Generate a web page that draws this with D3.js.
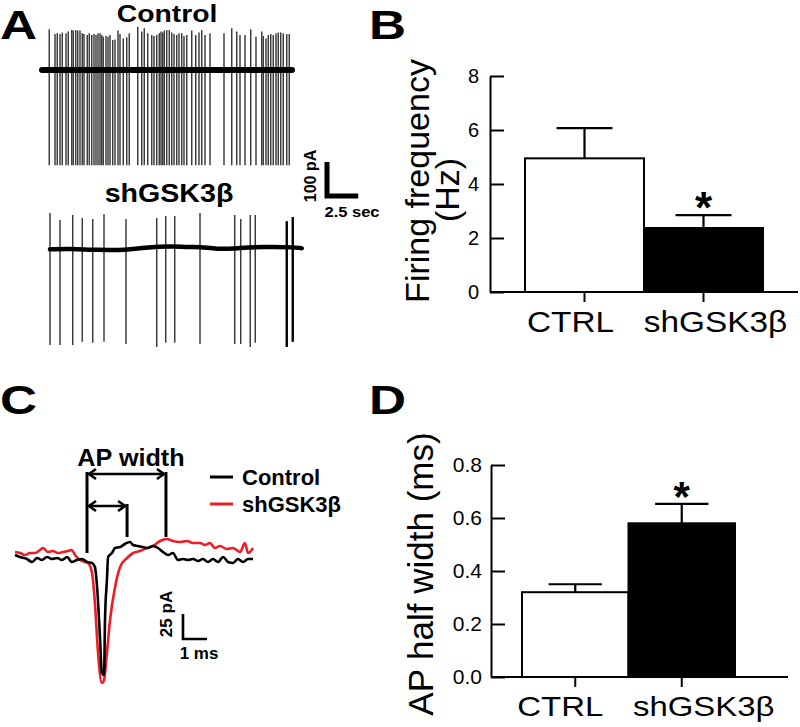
<!DOCTYPE html>
<html><head><meta charset="utf-8">
<script src="https://cdn.jsdelivr.net/npm/d3@7"></script>
<style>
html,body{margin:0;padding:0;background:#fff;}
svg{display:block;font-family:"Liberation Sans",Arial,sans-serif;}
</style></head>
<body>
<svg id="fig" width="800" height="727"></svg>
<script>
// ---------------- DATA ----------------
// Panel A: spike times (s) and peak amplitudes (pA)
const controlSpikeTimes = [0.58,1.04,1.22,1.44,1.62,1.92,2.10,2.38,2.50,2.70,2.86,3.04,3.22,3.36,3.62,3.78,3.98,4.16,4.32,4.48,4.64,4.78,4.90,5.12,5.28,5.44,5.66,5.84,6.08,6.24,6.50,6.78,6.98,7.66,7.98,8.18,8.46,8.78,8.96,9.18,9.38,9.52,9.66,9.78,9.98,10.18,10.38,10.56,10.78,10.96,11.18,11.36,11.58,11.98,12.30,12.56,12.78,13.04,13.44,14.56,15.18,15.58,15.84,16.24,16.70,17.12,17.58,17.70,17.92,18.10,18.30,18.50,18.72,18.90,19.10,19.30,19.58,19.78];
const controlSpikePeaks = [120,106,108,106,110,108,113,118,116,118,116,116,108,106,103,108,103,106,103,108,108,103,98,100,98,103,88,90,116,106,93,96,108,127,113,123,108,103,100,103,108,113,110,116,118,118,110,106,103,108,108,100,103,116,103,110,118,103,108,108,123,113,103,103,120,98,113,100,93,103,106,103,108,110,110,108,106,106];
const controlTrough = -280;
const shSpikeTimes = [0.08,0.88,1.90,2.66,3.50,4.40,6.16,8.62,9.34,10.06,12.08,14.86,15.34,16.10,16.50,19.02,19.50];
const shSpikePeaks = [103,82,97,88,85,100,85,88,94,94,103,97,85,97,97,79,91];
const shSpikeTroughs = [-285,-285,-285,-276,-279,-276,-282,-291,-279,-279,-282,-282,-282,-291,-279,-291,-276];
const shBaseline = [[0.08,-4],[1.68,-2],[3.82,-6],[6.22,-6],[7.52,1],[9.92,6],[11.02,2],[12.08,4],[13.42,-4],[15.02,-1],[17.14,4],[19.82,2],[20.22,-1]];

// Panel B
const categories = ["CTRL","shGSK3β"];
const freqMean = [4.95, 2.37];
const freqSem = [1.12, 0.48];
const freqTicks = [0,2,4,6,8];

// Panel C: averaged action currents (ms, pA)
const apControl = [[0,3],[0.21,1],[0.5,-1],[0.71,-4],[0.92,0],[1.12,-2],[1.33,1],[1.54,-1],[1.75,0],[1.96,-2],[2.17,1],[2.37,-4],[2.58,-2],[2.79,-1],[3.0,-4],[3.21,-5],[3.33,-9],[3.42,-29],[3.54,-79],[3.62,-115],[3.71,-117],[3.75,-62],[3.83,-22],[3.88,1],[4.04,5],[4.17,10],[4.38,11],[4.58,14],[4.79,16],[4.92,13],[5.12,12],[5.33,11],[5.54,10],[5.75,12],[5.96,10],[6.17,6],[6.38,3],[6.58,5],[6.79,-2],[7.0,-1],[7.21,-2],[7.42,-1],[7.63,-3],[7.83,-1],[8.04,-4],[8.25,-1],[8.46,-4],[8.67,1],[8.88,-4],[9.08,-5],[9.29,-1],[9.5,-4],[9.71,-1],[9.92,-1]];
const apSh = [[0,6],[0.21,5],[0.42,3],[0.62,5],[0.83,5],[1.04,8],[1.17,10],[1.37,6],[1.58,7],[1.79,5],[2.0,6],[2.21,7],[2.37,8],[2.5,3],[2.71,-2],[2.92,-4],[3.04,-5],[3.21,-15],[3.33,-45],[3.46,-95],[3.62,-125],[3.71,-122],[3.83,-95],[3.96,-62],[4.17,-29],[4.38,-9],[4.67,0],[4.92,5],[5.21,7],[5.5,10],[5.75,12],[6.04,17],[6.33,19],[6.58,17],[6.88,16],[7.17,17],[7.42,15],[7.71,15],[7.92,13],[8.12,15],[8.33,10],[8.54,12],[8.83,9],[9.08,10],[9.38,6],[9.58,15],[9.71,5],[9.92,10]];
const widthMarks = [3.0, 4.67, 6.29]; // ms: onset, control end, shGSK3β end

// Panel D
const hwMean = [0.32, 0.58];
const hwSem = [0.03, 0.073];
const hwTicks = [0,0.2,0.4,0.6,0.8];

// ---------------- DRAW ----------------
const svg = d3.select("#fig");
const RED = "#ee1c24";
const FONT = "Liberation Sans, Arial, sans-serif";

function txt(g, s, x, y, o = {}) {
  return g.append("text").text(s)
    .attr("transform", `translate(${x},${y}) rotate(${o.rot || 0}) scale(${o.sx || 1},${o.sy || 1})`)
    .attr("font-size", o.size || 16)
    .attr("font-weight", o.weight || "normal")
    .attr("text-anchor", o.anchor || "start")
    .attr("fill", o.fill || "#000");
}

// Panel letters
txt(svg, "A", 0, 39, {size: 41, weight: "bold", sx: 1.25});
txt(svg, "B", 369, 39, {size: 41, weight: "bold", sx: 1.25});
txt(svg, "C", 0, 414, {size: 41, weight: "bold", sx: 1.25});
txt(svg, "D", 369, 414, {size: 41, weight: "bold", sx: 1.25});

// ---- Panel A ----
const gA = svg.append("g");
const pxPerPa = 34 / 100;
const xCtl = d3.scaleLinear().domain([0, 20]).range([42, 292]);
const yCtl = d3.scaleLinear().domain([0, 100]).range([70, 70 - 100 * pxPerPa]);
const xSh = d3.scaleLinear().domain([0, 20]).range([49, 299]);
const ySh = d3.scaleLinear().domain([0, 100]).range([248, 248 - 100 * pxPerPa]);

txt(gA, "Control", 167, 22, {size: 24, weight: "bold", anchor: "middle", sx: 1.18});
txt(gA, "shGSK3β", 169, 202, {size: 26, weight: "bold", anchor: "middle", sx: 1.1});

gA.selectAll("line.cs").data(controlSpikeTimes).join("line")
  .attr("x1", d => xCtl(d)).attr("x2", d => xCtl(d))
  .attr("y1", (d, i) => yCtl(controlSpikePeaks[i])).attr("y2", yCtl(controlTrough))
  .attr("stroke", "#333").attr("stroke-width", 1.4);
gA.append("line").attr("x1", xCtl(0)).attr("x2", xCtl(20)).attr("y1", yCtl(0)).attr("y2", yCtl(0))
  .attr("stroke", "#000").attr("stroke-width", 6).attr("stroke-linecap", "round");

gA.selectAll("line.ss").data(shSpikeTimes).join("line")
  .attr("x1", d => xSh(d)).attr("x2", d => xSh(d))
  .attr("y1", (d, i) => ySh(shSpikePeaks[i])).attr("y2", (d, i) => ySh(shSpikeTroughs[i]))
  .attr("stroke", (d, i) => i >= shSpikeTimes.length - 2 ? "#000" : "#333")
  .attr("stroke-width", (d, i) => i >= shSpikeTimes.length - 2 ? 2.4 : 1.4);
gA.append("path").datum(shBaseline)
  .attr("d", d3.line().x(d => xSh(d[0])).y(d => ySh(d[1])).curve(d3.curveBasis))
  .attr("fill", "none").attr("stroke", "#000").attr("stroke-width", 4.5).attr("stroke-linecap", "round");

// scale bar A
const sbX = 327;
gA.append("path").attr("d", `M${sbX},${yCtl(0) + 92} V${yCtl(0) + 92 + 100 * pxPerPa} H${sbX + xCtl(2.5) - xCtl(0)}`)
  .attr("fill", "none").attr("stroke", "#000").attr("stroke-width", 5);
txt(gA, "100 pA", 316, 176, {size: 16, weight: "bold", anchor: "middle", rot: -90});
txt(gA, "2.5 sec", 352, 217, {size: 15, weight: "bold", anchor: "middle", sx: 1.1});

// ---- Panel B ----
const gB = svg.append("g");
const xB = d3.scaleBand().domain(categories).range([525, 763]).padding(0);
const yB = d3.scaleLinear().domain([0, 8]).range([292, 76]);
gB.append("g").attr("transform", "translate(490,0)")
  .call(d3.axisLeft(yB).tickValues(freqTicks).tickSizeInner(-14).tickSizeOuter(0).tickPadding(11))
  .call(g => { g.select(".domain").attr("stroke-width", 2); g.selectAll(".tick line").attr("stroke-width", 2);
    g.selectAll(".tick text").attr("font-size", 20).attr("font-family", FONT); });
gB.selectAll("rect").data(categories).join("rect")
  .attr("x", d => xB(d)).attr("width", xB.bandwidth())
  .attr("y", (d, i) => yB(freqMean[i])).attr("height", (d, i) => yB(0) - yB(freqMean[i]))
  .attr("fill", (d, i) => i === 0 ? "#fff" : "#000").attr("stroke", "#000").attr("stroke-width", 2);
categories.forEach((c, i) => {
  const cx = xB(c) + xB.bandwidth() / 2, hw = xB.bandwidth() * 0.235;
  gB.append("path").attr("d", `M${cx},${yB(freqMean[i])} V${yB(freqMean[i] + freqSem[i])} M${cx - hw},${yB(freqMean[i] + freqSem[i])} H${cx + hw}`)
    .attr("stroke", "#000").attr("stroke-width", 2.2).attr("fill", "none");
});
const sB = 1.15;
gB.append("g").attr("transform", "translate(0,292)")
  .call(d3.axisBottom(xB).tickSizeInner(10).tickSizeOuter(0).tickPadding(14))
  .call(g => { g.select(".domain").remove(); g.selectAll(".tick line").attr("stroke-width", 2);
    g.selectAll(".tick text").attr("font-size", 29).attr("font-family", FONT)
      .attr("transform", `scale(${sB},1)`)
      .attr("dx", (d, i) => (i === 0 ? -14 : 12) / sB).attr("dy", "0.55em"); });
gB.append("line").attr("x1", 490).attr("x2", 798).attr("y1", 292).attr("y2", 292).attr("stroke", "#000").attr("stroke-width", 2);
txt(gB, "*", xB("shGSK3β") + xB.bandwidth() / 2, yB(freqMean[1] + freqSem[1]) + 8, {size: 44, weight: "bold", anchor: "middle"});
txt(gB, "Firing frequency", 429, 181, {size: 34, anchor: "middle", rot: -90});
txt(gB, "(Hz)", 459, 190, {size: 34, anchor: "middle", rot: -90});

// ---- Panel C ----
const gC = svg.append("g");
const xC = d3.scaleLinear().domain([0, 10]).range([15, 255]);
const yC = d3.scaleLinear().domain([0, -125]).range([558, 683]);
const lineC = d3.line().x(d => xC(d[0])).y(d => yC(d[1])).curve(d3.curveMonotoneX);
gC.append("path").datum(apSh).attr("d", lineC).attr("fill", "none").attr("stroke", RED).attr("stroke-width", 2.6).attr("stroke-linejoin", "round");
gC.append("path").datum(apControl).attr("d", lineC).attr("fill", "none").attr("stroke", "#000").attr("stroke-width", 2.6).attr("stroke-linejoin", "round");

const xa = xC(widthMarks[0]), xb = xC(widthMarks[1]), xc = xC(widthMarks[2]);
const ann = gC.append("g").attr("stroke", "#000").attr("stroke-width", 3).attr("fill", "none");
ann.append("line").attr("x1", xa).attr("x2", xa).attr("y1", 472).attr("y2", 553);
ann.append("line").attr("x1", xc).attr("x2", xc).attr("y1", 472).attr("y2", 537);
ann.append("line").attr("x1", xb).attr("x2", xb).attr("y1", 504).attr("y2", 537);
function dblArrow(x1, x2, y) {
  ann.append("line").attr("x1", x1 + 2).attr("x2", x2 - 2).attr("y1", y).attr("y2", y).attr("stroke-width", 2.6);
  ann.append("path").attr("d", `M${x1 + 9},${y - 5} L${x1 + 2},${y} L${x1 + 9},${y + 5}`).attr("stroke-width", 2.6);
  ann.append("path").attr("d", `M${x2 - 9},${y - 5} L${x2 - 2},${y} L${x2 - 9},${y + 5}`).attr("stroke-width", 2.6);
}
dblArrow(xa, xc, 474);
dblArrow(xa, xb, 506);
txt(gC, "AP width", 131, 466, {size: 24, weight: "bold", anchor: "middle", sx: 1.05});

// legend
gC.append("line").attr("x1", 210).attr("x2", 233).attr("y1", 477).attr("y2", 477).attr("stroke", "#000").attr("stroke-width", 3);
gC.append("line").attr("x1", 210).attr("x2", 233).attr("y1", 504).attr("y2", 504).attr("stroke", RED).attr("stroke-width", 3);
txt(gC, "Control", 242, 485, {size: 22, weight: "bold"});
txt(gC, "shGSK3β", 242, 512, {size: 22, weight: "bold"});

// scale bar C
const sbCx = 183, sbCy = 639;
gC.append("path").attr("d", `M${sbCx},${sbCy - (yC(-25) - yC(0))} V${sbCy} H${sbCx + xC(1) - xC(0)}`)
  .attr("fill", "none").attr("stroke", "#000").attr("stroke-width", 2.6);
txt(gC, "25 pA", 172, 614, {size: 17, weight: "bold", anchor: "middle", rot: -90});
txt(gC, "1 ms", 199, 659, {size: 17, weight: "bold", anchor: "middle"});

// ---- Panel D ----
const gD = svg.append("g");
const xD = d3.scaleBand().domain(categories).range([522, 735]).padding(0);
const yD = d3.scaleLinear().domain([0, 0.8]).range([677, 465]);
gD.append("g").attr("transform", "translate(491,0)")
  .call(d3.axisLeft(yD).tickValues(hwTicks).tickFormat(d3.format(".1f")).tickSizeInner(-14).tickSizeOuter(0).tickPadding(9))
  .call(g => { g.select(".domain").attr("stroke-width", 2); g.selectAll(".tick line").attr("stroke-width", 2);
    g.selectAll(".tick text").attr("font-size", 21).attr("font-family", FONT); });
gD.selectAll("rect").data(categories).join("rect")
  .attr("x", d => xD(d)).attr("width", xD.bandwidth())
  .attr("y", (d, i) => yD(hwMean[i])).attr("height", (d, i) => yD(0) - yD(hwMean[i]))
  .attr("fill", (d, i) => i === 0 ? "#fff" : "#000").attr("stroke", "#000").attr("stroke-width", 2);
categories.forEach((c, i) => {
  const cx = xD(c) + xD.bandwidth() / 2, hw = xD.bandwidth() * 0.25;
  gD.append("path").attr("d", `M${cx},${yD(hwMean[i])} V${yD(hwMean[i] + hwSem[i])} M${cx - hw},${yD(hwMean[i] + hwSem[i])} H${cx + hw}`)
    .attr("stroke", "#000").attr("stroke-width", 2.2).attr("fill", "none");
});
const sD = 1.22;
gD.append("g").attr("transform", "translate(0,677)")
  .call(d3.axisBottom(xD).tickSizeInner(10).tickSizeOuter(0).tickPadding(14))
  .call(g => { g.select(".domain").remove(); g.selectAll(".tick line").attr("stroke-width", 2);
    g.selectAll(".tick text").attr("font-size", 27).attr("font-family", FONT)
      .attr("transform", `scale(${sD},1)`)
      .attr("dx", (d, i) => (i === 0 ? -15 : 22) / sD).attr("dy", "0.55em"); });
gD.append("line").attr("x1", 491).attr("x2", 788).attr("y1", 677).attr("y2", 677).attr("stroke", "#000").attr("stroke-width", 2);
txt(gD, "*", xD("shGSK3β") + xD.bandwidth() / 2, yD(hwMean[1] + hwSem[1]) + 7, {size: 42, weight: "bold", anchor: "middle"});
txt(gD, "AP half width (ms)", 433, 574, {size: 35, anchor: "middle", rot: -90});
</script>
</body></html>
